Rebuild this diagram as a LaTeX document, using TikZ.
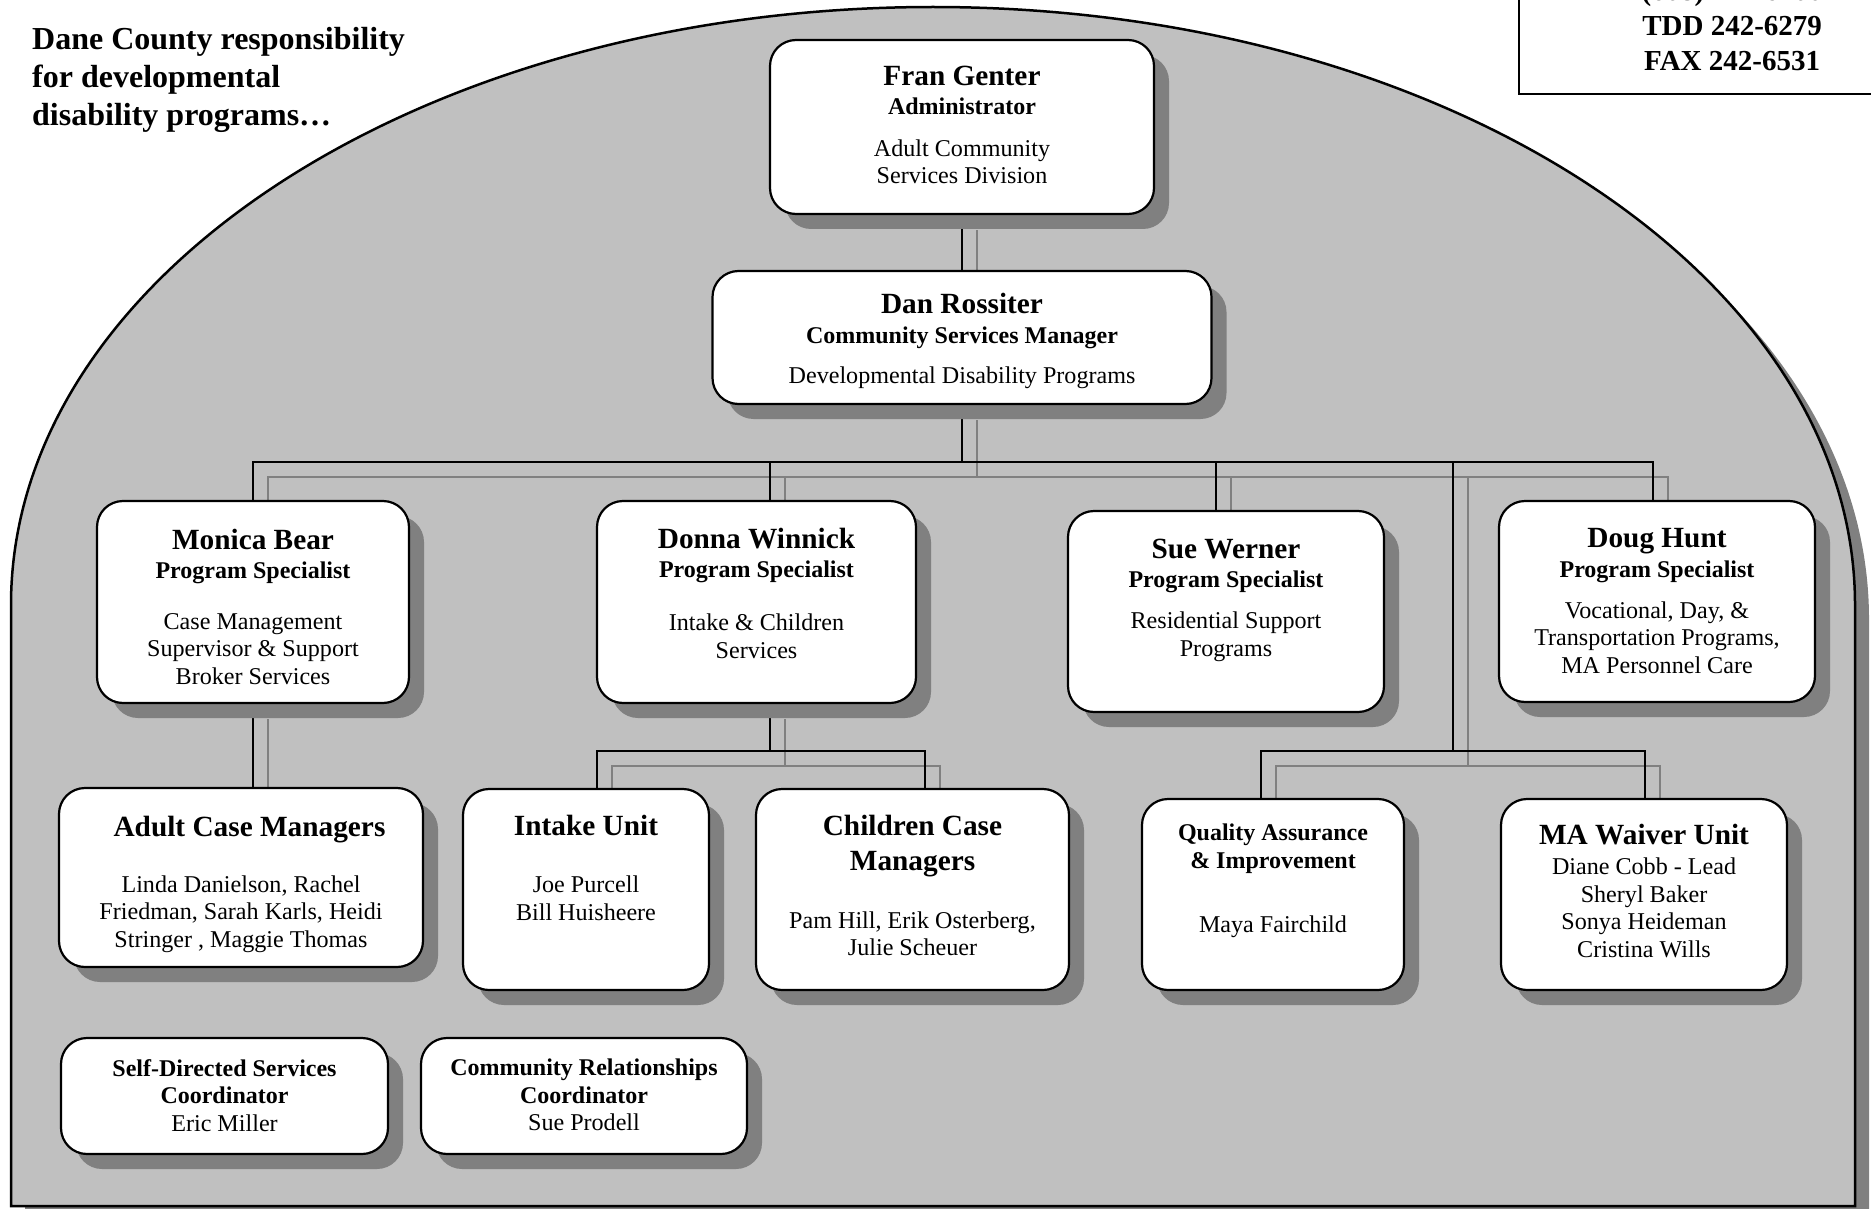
\documentclass[tikz,border=0pt]{standalone}
\usepackage{fontspec}
\setmainfont{Liberation Serif}
\usetikzlibrary{positioning,shadows}

\definecolor{archgray}{HTML}{C0C0C0}
\definecolor{shadowgray}{HTML}{808080}

\newcommand{\headfont}{\fontsize{32}{38}\selectfont\bfseries}
\newcommand{\phonefont}{\fontsize{29}{35}\selectfont\bfseries}
\newcommand{\namefont}{\fontsize{29.3}{33}\selectfont\bfseries}
\newcommand{\rolefont}{\fontsize{24}{27.5}\selectfont\bfseries}
\newcommand{\descfont}{\fontsize{24.1}{27.5}\selectfont}

\pgfdeclarelayer{arch}
\pgfdeclarelayer{wires}
\pgfsetlayers{arch,wires,main}

\begin{document}
\begin{tikzpicture}[x=1pt,y=-1pt,
  unit/.style={draw,line width=2.2pt,fill=white,rounded corners=26pt,inner sep=0pt,
    drop shadow={shadow xshift=15pt,shadow yshift=-15pt,opacity=1,fill=shadowgray}},
  txt/.style={align=center,inner sep=0pt,font=\descfont},
  wire/.style={line width=2pt}]
  \useasboundingbox (0,0) rectangle (1871,1209);

  \begin{pgfonlayer}{arch}
    \fill[shadowgray,shift={(14,14)}] (11,1206) -- (11,605)
      arc[start angle=180,end angle=360,x radius=922,y radius=598] -- (1855,1206) -- cycle;
    \draw[line width=2.5pt,fill=archgray] (11,1206) -- (11,605)
      arc[start angle=180,end angle=360,x radius=922,y radius=598] -- (1855,1206) -- cycle;
  \end{pgfonlayer}

  \node[anchor=north west,align=left,inner sep=0pt,font=\headfont] (heading) at (32,27.5)
    {Dane County responsibility\\for developmental\\disability programs…};
  \node[draw,line width=2.2pt,fill=white,anchor=south west,minimum width=426pt,
    minimum height=136pt,align=center,font=\phonefont] (phone) at (1518,95)
    {(608) 242-6200\\TDD 242-6279\\FAX 242-6531};

  \node[unit,minimum width=384pt,minimum height=174pt] (fran) at (962,127) {};
  \node[unit,minimum width=499pt,minimum height=133pt] (dan) at (962,337.5) {};
  \node[unit,minimum width=312pt,minimum height=202pt] (monica) at (253,602) {};
  \node[unit,minimum width=319pt,minimum height=202pt] (donna) at (756.5,602) {};
  \node[unit,minimum width=316pt,minimum height=201pt] (sue) at (1226,611.5) {};
  \node[unit,minimum width=316pt,minimum height=201pt] (doug) at (1657,601.5) {};
  \node[unit,minimum width=364pt,minimum height=179pt] (adult) at (241,877.5) {};
  \node[unit,minimum width=246pt,minimum height=201pt] (intake) at (586,889.5) {};
  \node[unit,minimum width=313pt,minimum height=201pt] (children) at (912.5,889.5) {};
  \node[unit,minimum width=262pt,minimum height=191pt] (qa) at (1273,894.5) {};
  \node[unit,minimum width=286pt,minimum height=191pt] (waiver) at (1644,894.5) {};
  \node[unit,minimum width=327pt,minimum height=116pt] (selfdir) at (224.5,1096) {};
  \node[unit,minimum width=326pt,minimum height=116pt] (commrel) at (584,1096) {};

  \node[txt] (franT) [below=27pt of fran.north]
    {{\namefont Fran Genter}\\[1.5pt]{\rolefont Administrator}\\[14.5pt]Adult Community\\Services Division};
  \node[txt] (danT) [below=23pt of dan.north]
    {{\namefont Dan Rossiter}\\[2.5pt]{\rolefont Community Services Manager}\\[12.5pt]Developmental Disability Programs};
  \node[txt] (monicaT) [below=29pt of monica.north]
    {{\namefont Monica Bear}\\[1.5pt]{\rolefont Program Specialist}\\[23.5pt]Case Management\\Supervisor \& Support\\Broker Services};
  \node[txt] (donnaT) [below=28pt of donna.north]
    {{\namefont Donna Winnick}\\[1.5pt]{\rolefont Program Specialist}\\[26pt]Intake \& Children\\Services};
  \node[txt] (sueT) [below=29pt of sue.north]
    {{\namefont Sue Werner}\\[1.5pt]{\rolefont Program Specialist}\\[13.5pt]Residential Support\\Programs};
  \node[txt] (dougT) [below=28pt of doug.north]
    {{\namefont Doug Hunt}\\[2.5pt]{\rolefont Program Specialist}\\[13.5pt]Vocational, Day, \&\\Transportation Programs,\\MA Personnel Care};
  \node[txt] (adultT) [below=29pt of adult.north]
    {{\namefont\hspace*{17pt}Adult Case Managers}\\[28.5pt]Linda Danielson, Rachel\\Friedman, Sarah Karls, Heidi\\Stringer , Maggie Thomas};
  \node[txt] (intakeT) [below=27.5pt of intake.north]
    {{\namefont Intake Unit}\\[29.5pt]Joe Purcell\\Bill Huisheere};
  \node[txt] (childrenT) [below=27.5pt of children.north]
    {{\namefont Children Case}\\[7pt]{\namefont Managers}\\[30.5pt]Pam Hill, Erik Osterberg,\\Julie Scheuer};
  \node[txt] (qaT) [below=26pt of qa.north]
    {{\rolefont Quality Assurance}\\{\rolefont \& Improvement}\\[36.5pt]Maya Fairchild};
  \node[txt] (waiverT) [below=26.5pt of waiver.north]
    {{\namefont MA Waiver Unit}\\[2.5pt]Diane Cobb - Lead\\Sheryl Baker\\Sonya Heideman\\Cristina Wills};
  \node[txt] (selfdirT) [below=22pt of selfdir.north]
    {{\rolefont Self-Directed Services}\\{\rolefont Coordinator}\\Eric Miller};
  \node[txt] (commrelT) [below=22pt of commrel.north]
    {{\rolefont Community Relationships}\\{\rolefont Coordinator}\\Sue Prodell};

  \coordinate (hub) at (962,462);
  \coordinate (tMonica) at (253,462);
  \coordinate (tDonna) at (770,462);
  \coordinate (tSue) at (1216,462);
  \coordinate (tLower) at (1453,462);
  \coordinate (tDoug) at (1653,462);
  \coordinate (hubLower) at (1453,751);
  \coordinate (tQA) at (1261,751);
  \coordinate (tWaiver) at (1645,751);
  \coordinate (hubDonna) at (770,751);
  \coordinate (tIntake) at (597,751);
  \coordinate (tChildren) at (925,751);

  \begin{pgfonlayer}{wires}
    \foreach \off/\col in {15/shadowgray,0/black}
      \draw[wire,draw=\col,transform canvas={shift={(\off,\off)}}]
        (fran.south) -- (dan.north)
        (dan.south) -- (hub)
        (tMonica |- monica.north) -- (tMonica) -- (tDoug) -- (tDoug |- doug.north)
        (tDonna) -- (tDonna |- donna.north)
        (tSue) -- (tSue |- sue.north)
        (tLower) -- (hubLower)
        (tQA |- qa.north) -- (tQA) -- (tWaiver) -- (tWaiver |- waiver.north)
        (tDonna |- donna.south) -- (hubDonna)
        (tIntake |- intake.north) -- (tIntake) -- (tChildren) -- (tChildren |- children.north)
        (monica.south) -- (monica.south |- adult.north);
  \end{pgfonlayer}
\end{tikzpicture}
\end{document}
